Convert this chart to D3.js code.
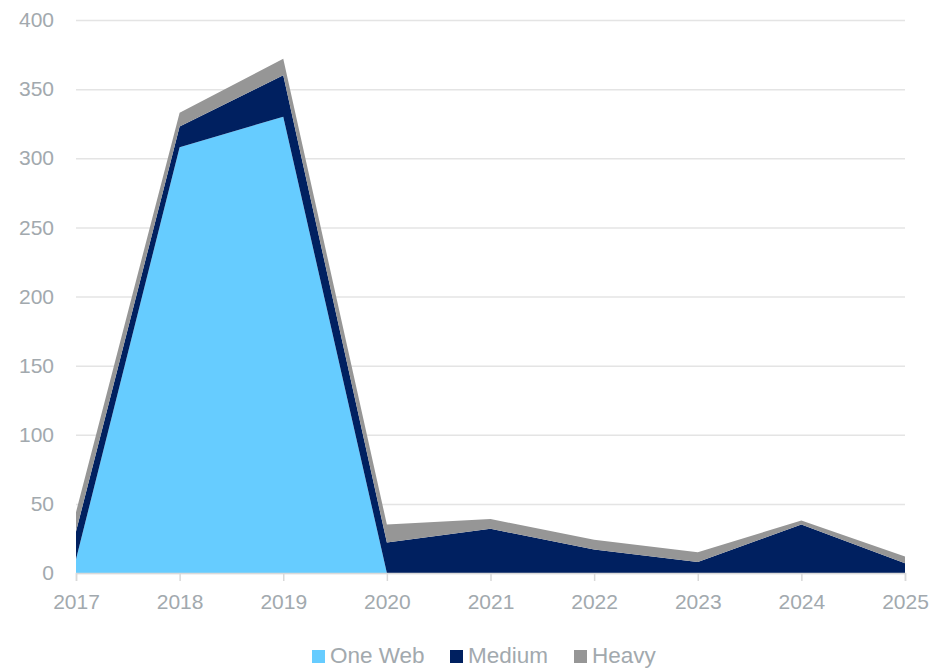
<!DOCTYPE html>
<html>
<head>
<meta charset="utf-8">
<script src="https://cdn.jsdelivr.net/npm/d3@7"></script>
<style>
  body { margin: 0; background: #fff; }
  svg { display: block; font-family: "Liberation Sans", Arial, sans-serif; }
</style>
</head>
<body>
<svg id="chart" width="935" height="668"></svg>
<script>
// chart data
const years = [2017, 2018, 2019, 2020, 2021, 2022, 2023, 2024, 2025];
const oneWeb = [10, 308, 330, 0, 0, 0, 0, 0, 0];
const medium = [20, 15, 30, 22, 32, 17, 8, 35, 7];
const heavy = [14, 10, 12, 13, 7, 7, 7, 3, 5];
const seriesNames = ["One Web", "Medium", "Heavy"];
const seriesColors = ["#66CCFF", "#002060", "#969696"];
const yTicks = [0, 50, 100, 150, 200, 250, 300, 350, 400];

const width = 935, height = 668;
const margin = { top: 20, right: 30, bottom: 95, left: 76 };
const innerWidth = width - margin.left - margin.right;
const innerHeight = height - margin.top - margin.bottom;

const svg = d3.select("#chart");
const g = svg.append("g")
  .attr("transform", `translate(${margin.left},${margin.top})`);

const x = d3.scaleLinear()
  .domain([years[0], years[years.length - 1]])
  .range([0, innerWidth]);

const y = d3.scaleLinear()
  .domain([0, 400])
  .range([innerHeight, 0]);

// gridlines
g.append("g")
  .attr("class", "y-axis")
  .call(d3.axisLeft(y).tickValues(yTicks).tickSize(-innerWidth).tickPadding(22))
  .call(a => a.select(".domain").remove())
  .call(a => a.selectAll(".tick line").attr("stroke", "#e4e4e4").attr("stroke-width", 1.5))
  .call(a => a.selectAll(".tick text")
    .attr("fill", "#a2a9ae")
    .style("font-size", "21px")
    .style("font-family", "'Liberation Sans', Arial, sans-serif"));

// stacked areas
const table = years.map((yr, i) => ({
  year: yr,
  "One Web": oneWeb[i],
  "Medium": medium[i],
  "Heavy": heavy[i]
}));

const stack = d3.stack().keys(seriesNames);
const layers = stack(table);

const area = d3.area()
  .x(d => x(d.data.year))
  .y0(d => y(d[0]))
  .y1(d => y(d[1]));

g.selectAll("path.layer")
  .data(layers)
  .enter()
  .append("path")
  .attr("class", "layer")
  .attr("d", area)
  .attr("fill", (d, i) => seriesColors[i]);

// x axis
g.append("g")
  .attr("class", "x-axis")
  .attr("transform", `translate(0,${innerHeight})`)
  .call(d3.axisBottom(x).tickValues(years).tickFormat(d3.format("d")).tickSize(8).tickPadding(13))
  .call(a => a.select(".domain").attr("stroke", "#d9d9d9").attr("stroke-width", 1.5))
  .call(a => a.selectAll(".tick line").attr("stroke", "#d9d9d9").attr("stroke-width", 1.5))
  .call(a => a.selectAll(".tick text")
    .attr("fill", "#a2a9ae")
    .style("font-size", "21px")
    .style("font-family", "'Liberation Sans', Arial, sans-serif"));

// legend
const legendX = [312, 450, 574];
const legend = svg.append("g").attr("class", "legend");
seriesNames.forEach((name, i) => {
  const item = legend.append("g")
    .attr("transform", `translate(${legendX[i]}, 650)`);
  item.append("rect")
    .attr("width", 13)
    .attr("height", 13)
    .attr("fill", seriesColors[i]);
  item.append("text")
    .attr("x", 18)
    .attr("y", 13)
    .attr("fill", "#a2a9ae")
    .style("font-size", "22.5px")
    .text(name);
});
</script>
</body>
</html>
